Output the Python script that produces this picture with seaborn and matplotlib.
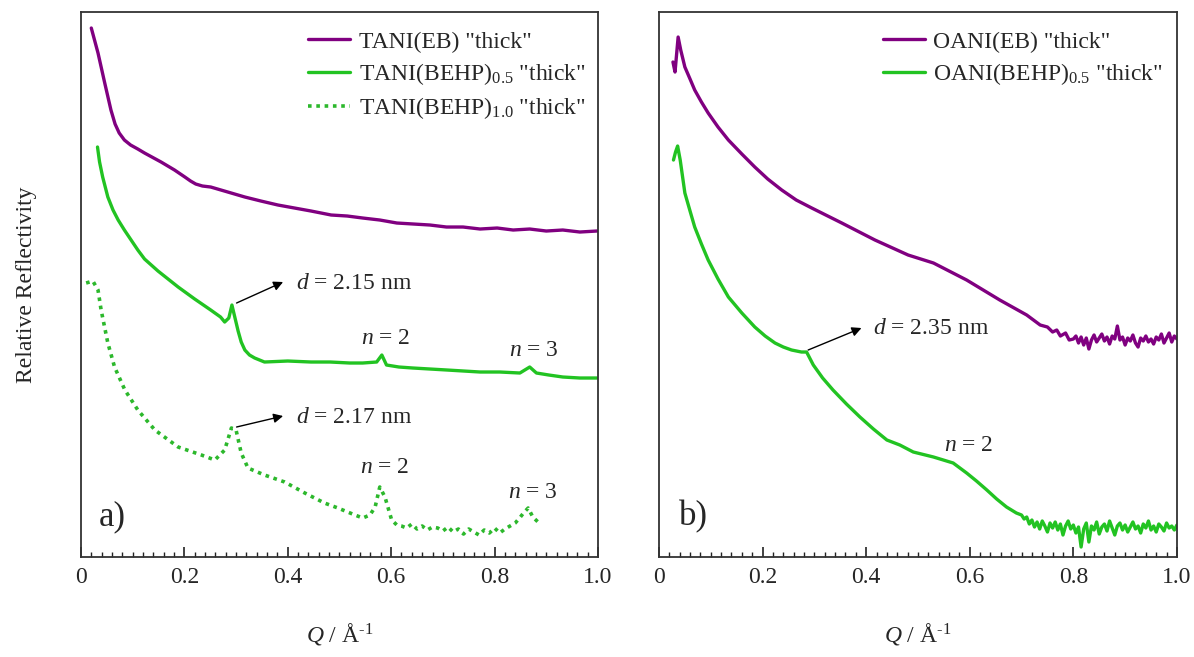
import numpy as np
import pandas as pd
import matplotlib
matplotlib.use('Agg')
import matplotlib.pyplot as plt
from matplotlib.ticker import MultipleLocator
import seaborn as sns

# ---- panel a) TANI films ----
q_tani_eb = [0.020, 0.033, 0.046, 0.058, 0.066, 0.074, 0.084, 0.096, 0.110, 0.123, 0.155,
             0.181, 0.201, 0.212, 0.222, 0.235, 0.251, 0.284, 0.317, 0.348, 0.381, 0.413,
             0.445, 0.484, 0.515, 0.545, 0.578, 0.611, 0.643, 0.675, 0.707, 0.739, 0.772,
             0.805, 0.836, 0.868, 0.900, 0.932, 0.965, 0.998]
r_tani_eb = [5.29, 5.04, 4.74, 4.47, 4.33, 4.24, 4.17, 4.12, 4.08, 4.04, 3.95,
             3.87, 3.80, 3.76, 3.73, 3.71, 3.70, 3.65, 3.60, 3.56, 3.52, 3.49,
             3.46, 3.42, 3.41, 3.39, 3.37, 3.34, 3.33, 3.32, 3.30, 3.30, 3.28,
             3.29, 3.27, 3.28, 3.26, 3.27, 3.25, 3.26]

q_tani_05 = [0.032, 0.036, 0.042, 0.052, 0.062, 0.072, 0.084, 0.097, 0.110, 0.123, 0.149,
             0.188, 0.220, 0.251, 0.270, 0.278, 0.286, 0.292, 0.298, 0.304, 0.310, 0.317,
             0.326, 0.336, 0.355, 0.400, 0.445, 0.482, 0.520, 0.545, 0.572, 0.582, 0.591,
             0.615, 0.642, 0.675, 0.708, 0.740, 0.772, 0.810, 0.849, 0.868, 0.881, 0.905,
             0.932, 0.965, 0.998]
r_tani_05 = [4.10, 3.95, 3.80, 3.60, 3.47, 3.37, 3.27, 3.17, 3.07, 2.98, 2.86,
             2.70, 2.58, 2.47, 2.40, 2.35, 2.39, 2.52, 2.39, 2.26, 2.15, 2.07,
             2.02, 1.99, 1.95, 1.96, 1.95, 1.95, 1.94, 1.94, 1.95, 2.02, 1.92,
             1.90, 1.89, 1.88, 1.87, 1.86, 1.85, 1.85, 1.84, 1.90, 1.84, 1.82,
             1.80, 1.79, 1.79]

q_tani_10 = [0.010, 0.023, 0.033, 0.039, 0.052, 0.065, 0.085, 0.110, 0.143, 0.188, 0.233,
             0.259, 0.278, 0.291, 0.300, 0.310, 0.323, 0.355, 0.394, 0.433, 0.471, 0.497,
             0.530, 0.545, 0.559, 0.569, 0.578, 0.588, 0.601, 0.611, 0.620, 0.630, 0.640,
             0.650, 0.660, 0.670, 0.680, 0.690, 0.700, 0.710, 0.720, 0.730, 0.740, 0.750,
             0.760, 0.770, 0.780, 0.790, 0.800, 0.810, 0.820, 0.830, 0.840, 0.850, 0.856,
             0.865, 0.874, 0.884]
r_tani_10 = [2.74, 2.76, 2.67, 2.47, 2.14, 1.90, 1.67, 1.47, 1.27, 1.10, 1.02,
             0.97, 1.07, 1.29, 1.27, 1.04, 0.89, 0.82, 0.75, 0.64, 0.54, 0.49,
             0.42, 0.39, 0.42, 0.50, 0.70, 0.60, 0.37, 0.32, 0.31, 0.29, 0.33,
             0.28, 0.31, 0.27, 0.30, 0.29, 0.26, 0.30, 0.25, 0.28, 0.23, 0.28,
             0.25, 0.22, 0.27, 0.24, 0.29, 0.24, 0.28, 0.31, 0.34, 0.40, 0.44,
             0.49, 0.40, 0.35]

# ---- panel b) OANI films ----
q_oani_eb = [0.027, 0.031, 0.037, 0.042, 0.050, 0.060, 0.069, 0.082, 0.095, 0.114, 0.134,
             0.160, 0.185, 0.210, 0.237, 0.265, 0.295, 0.353, 0.417, 0.481, 0.530, 0.594,
             0.658, 0.710, 0.736, 0.750, 0.760, 0.768, 0.775, 0.785, 0.792, 0.800, 0.805,
             0.810, 0.815, 0.820, 0.825, 0.830, 0.835, 0.840, 0.845, 0.850, 0.855, 0.860,
             0.865, 0.870, 0.875, 0.880, 0.885, 0.890, 0.895, 0.900, 0.905, 0.910, 0.915,
             0.920, 0.925, 0.930, 0.935, 0.940, 0.945, 0.950, 0.955, 0.960, 0.965, 0.970,
             0.975, 0.980, 0.985, 0.990, 0.995, 1.000]
r_oani_eb = [4.95, 4.85, 5.20, 5.07, 4.90, 4.78, 4.67, 4.55, 4.44, 4.30, 4.17,
             4.03, 3.90, 3.78, 3.67, 3.57, 3.49, 3.34, 3.17, 3.02, 2.94, 2.77,
             2.57, 2.42, 2.32, 2.30, 2.25, 2.27, 2.21, 2.24, 2.17, 2.18, 2.21,
             2.14, 2.20, 2.12, 2.19, 2.08, 2.17, 2.22, 2.15, 2.19, 2.23, 2.16,
             2.20, 2.13, 2.21, 2.18, 2.31, 2.17, 2.20, 2.12, 2.19, 2.16, 2.22,
             2.14, 2.10, 2.19, 2.16, 2.21, 2.15, 2.18, 2.13, 2.20, 2.17, 2.23,
             2.14, 2.19, 2.24, 2.15, 2.21, 2.18]

q_oani_05 = [0.028, 0.032, 0.036, 0.041, 0.050, 0.060, 0.069, 0.082, 0.095, 0.114, 0.134,
             0.160, 0.185, 0.205, 0.224, 0.240, 0.256, 0.275, 0.285, 0.298, 0.316, 0.336,
             0.362, 0.388, 0.414, 0.440, 0.465, 0.491, 0.530, 0.568, 0.594, 0.613, 0.633,
             0.652, 0.671, 0.690, 0.700, 0.705, 0.710, 0.715, 0.720, 0.725, 0.730, 0.735,
             0.740, 0.745, 0.750, 0.755, 0.760, 0.765, 0.770, 0.775, 0.780, 0.785, 0.790,
             0.795, 0.800, 0.805, 0.810, 0.815, 0.820, 0.825, 0.830, 0.835, 0.840, 0.845,
             0.850, 0.855, 0.860, 0.865, 0.870, 0.875, 0.880, 0.885, 0.890, 0.895, 0.900,
             0.905, 0.910, 0.915, 0.920, 0.925, 0.930, 0.935, 0.940, 0.945, 0.950, 0.955,
             0.960, 0.965, 0.970, 0.975, 0.980, 0.985, 0.990, 0.995, 1.000]
r_oani_05 = [3.97, 4.05, 4.11, 3.97, 3.64, 3.46, 3.30, 3.13, 2.97, 2.78, 2.60,
             2.44, 2.30, 2.21, 2.14, 2.10, 2.07, 2.05, 2.05, 1.92, 1.79, 1.67,
             1.53, 1.40, 1.28, 1.17, 1.12, 1.05, 1.00, 0.94, 0.84, 0.76, 0.67,
             0.58, 0.50, 0.44, 0.42, 0.38, 0.40, 0.33, 0.37, 0.30, 0.35, 0.28,
             0.36, 0.31, 0.25, 0.34, 0.29, 0.35, 0.27, 0.33, 0.22, 0.31, 0.36,
             0.28, 0.32, 0.24, 0.30, 0.10, 0.28, 0.34, 0.15, 0.31, 0.27, 0.35,
             0.23, 0.30, 0.33, 0.26, 0.36, 0.29, 0.22, 0.31, 0.34, 0.27, 0.32,
             0.25, 0.30, 0.35, 0.28, 0.31, 0.24, 0.33, 0.29, 0.36, 0.27, 0.31,
             0.25, 0.33, 0.30, 0.26, 0.34, 0.29, 0.31, 0.27, 0.32]

xtick_vals = [0, 0.2, 0.4, 0.6, 0.8, 1.0]
xtick_labels = ['0', '0.2', '0.4', '0.6', '0.8', '1.0']

purple = '#800080'
green = '#22c322'

sns.set_style('ticks')
plt.rcParams['font.family'] = ['Liberation Serif', 'DejaVu Serif']
plt.rcParams['mathtext.fontset'] = 'custom'
plt.rcParams['mathtext.rm'] = 'Liberation Serif'
plt.rcParams['mathtext.it'] = 'Liberation Serif:italic'
plt.rcParams['font.size'] = 17

fig = plt.figure(figsize=(11.94, 6.57), dpi=100)
ax1 = fig.add_axes([0.0678, 0.1522, 0.433, 0.8295])
ax2 = fig.add_axes([0.5519, 0.1522, 0.4338, 0.8295])

lw = 2.4
sns.lineplot(x=q_tani_eb, y=r_tani_eb, ax=ax1, color=purple, lw=lw, label='TANI(EB) "thick"')
sns.lineplot(x=q_tani_05, y=r_tani_05, ax=ax1, color=green, lw=lw, label='TANI(BEHP)$_{0.5}$ "thick"')
sns.lineplot(x=q_tani_10, y=r_tani_10, ax=ax1, color='#2cb82c', lw=2.6,
             linestyle=(0, (1, 1.3)), label='TANI(BEHP)$_{1.0}$ "thick"')

sns.lineplot(x=q_oani_eb, y=r_oani_eb, ax=ax2, color=purple, lw=lw, label='OANI(EB) "thick"')
sns.lineplot(x=q_oani_05, y=r_oani_05, ax=ax2, color=green, lw=lw, label='OANI(BEHP)$_{0.5}$ "thick"')

for ax in (ax1, ax2):
    ax.set_xlim(0, 1.0)
    ax.set_ylim(0, 5.45)
    ax.set_yticks([])
    ax.set_xticks(xtick_vals)
    ax.set_xticklabels(xtick_labels)
    ax.xaxis.set_minor_locator(MultipleLocator(0.02))
    ax.tick_params(axis='x', which='major', direction='in', length=7, width=1.2,
                   labelsize=17, pad=7, top=False, color='#222222')
    ax.tick_params(axis='x', which='minor', direction='in', length=3.5, width=1.0,
                   top=False, color='#222222')
    for s in ax.spines.values():
        s.set_visible(True)
        s.set_linewidth(1.3)
        s.set_color('#333333')
    ax.set_xlabel(r'$Q$ / Å$^{\text{-1}}$', fontsize=17, labelpad=24)
    ax.set_ylabel('')

ax1.set_ylabel('Relative Reflectivity', fontsize=17, labelpad=32)

leg_kw = dict(frameon=False, fontsize=17, handlelength=1.8, handletextpad=0.35,
              labelspacing=0.35, borderpad=0, borderaxespad=0, loc='upper left')
ax1.legend(bbox_to_anchor=(0.439, 0.965), **leg_kw)
ax2.legend(bbox_to_anchor=(0.432, 0.965), **leg_kw)

arrow = dict(arrowstyle='-|>', color='black', lw=1.0, mutation_scale=14, shrinkA=0, shrinkB=0)

# panel a) annotations
ax1.annotate('', xy=(0.391, 2.75), xytext=(0.301, 2.54), arrowprops=arrow)
ax1.text(0.416, 2.74, '$d$ = 2.15 nm', ha='left', va='center', fontsize=17)
ax1.text(0.590, 2.19, '$n$ = 2', ha='center', va='center', fontsize=17)
ax1.text(0.876, 2.07, '$n$ = 3', ha='center', va='center', fontsize=17)
ax1.annotate('', xy=(0.391, 1.41), xytext=(0.301, 1.30), arrowprops=arrow)
ax1.text(0.416, 1.40, '$d$ = 2.17 nm', ha='left', va='center', fontsize=17)
ax1.text(0.588, 0.90, '$n$ = 2', ha='center', va='center', fontsize=17)
ax1.text(0.874, 0.65, '$n$ = 3', ha='center', va='center', fontsize=17)
ax1.text(0.035, 0.40, 'a)', ha='left', va='center', fontsize=25)

# panel b) annotations
ax2.annotate('', xy=(0.391, 2.29), xytext=(0.288, 2.07), arrowprops=arrow)
ax2.text(0.413, 2.29, '$d$ = 2.35 nm', ha='left', va='center', fontsize=17)
ax2.text(0.598, 1.12, '$n$ = 2', ha='center', va='center', fontsize=17)
ax2.text(0.039, 0.40, 'b)', ha='left', va='center', fontsize=25)

fig.savefig('out.png', dpi=100)
